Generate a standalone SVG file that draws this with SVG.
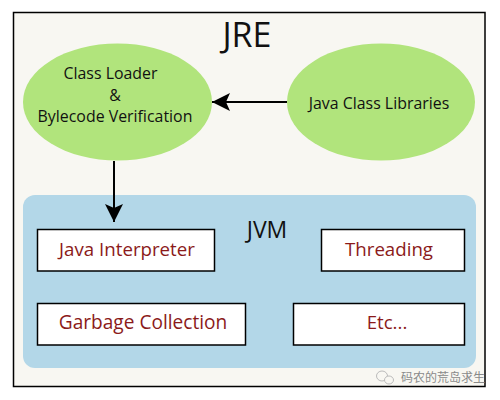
<svg xmlns="http://www.w3.org/2000/svg" width="500" height="400" viewBox="0 0 500 400">
<style>
text{font-family:"Open Sans","Noto Sans","Liberation Sans",sans-serif;fill:#111;text-anchor:middle}
.e{fill:#b1e47c}
.b{fill:#fff;stroke:#000;stroke-width:1.5}
.r{fill:#8b1a1a;font-size:18.7px}
.k{font-size:15.900px}
.c{stroke:#000;stroke-width:2;fill:none}
</style>
<defs>
<marker id="a" markerUnits="userSpaceOnUse" markerWidth="20" markerHeight="20" refX="18" refY="10" orient="auto"><path d="M0,1 L18,10 L0,19 L4,10 Z" fill="#000"/></marker>
</defs>
<rect width="500" height="400" fill="#fff"/>
<g id="jre">
<rect x="13.5" y="12.5" width="471.5" height="374" fill="#f8f7f2" stroke="#000" stroke-width="1.5"/>
<text x="247" y="47" font-size="34">JRE</text>
</g>
<g id="jvm">
<rect x="23" y="195" width="453" height="173" rx="12" fill="#b3d7e8"/>
<text x="267" y="238" font-size="23">JVM</text>
</g>
<g id="loader">
<ellipse class="e" cx="117.500" cy="102" rx="94.500" ry="58.500"/>
<text class="k" x="110.500" y="79">Class Loader</text>
<text class="k" x="115" y="101">&amp;</text>
<text class="k" x="115" y="122">Bylecode Verification</text>
</g>
<g id="libraries">
<ellipse class="e" cx="381" cy="102" rx="94" ry="58.500"/>
<text class="k" x="379" y="109">Java Class Libraries</text>
</g>
<g id="interpreter"><rect class="b" x="37.500" y="229.500" width="177" height="41.500"/><text class="r" x="127" y="256">Java Interpreter</text></g>
<g id="threading"><rect class="b" x="321.500" y="229.500" width="143" height="41.500"/><text class="r" x="389" y="256">Threading</text></g>
<g id="garbage"><rect class="b" x="37.500" y="303.500" width="208" height="41.500"/><text class="r" style="font-size:19.100px" x="143" y="329">Garbage Collection</text></g>
<g id="etc"><rect class="b" x="293.500" y="303.500" width="171" height="41.500"/><text class="r" x="387" y="329">Etc...</text></g>
<g id="connectors">
<path class="c" d="M287,102 L212,102" marker-end="url(#a)"/>
<path class="c" d="M114,161 L114,222" marker-end="url(#a)"/>
</g>
<g id="watermark" fill="#f8f7f2" stroke="#bbb" stroke-width="1">
<ellipse cx="382" cy="376" rx="5.500" ry="5"/>
<ellipse cx="389" cy="380" rx="4.500" ry="4"/>
<text x="443" y="382" font-size="12" stroke="none" style="font-family:'Noto Sans CJK SC',sans-serif;fill:#8a8a8a">码农的荒岛求生</text>
</g>
</svg>
